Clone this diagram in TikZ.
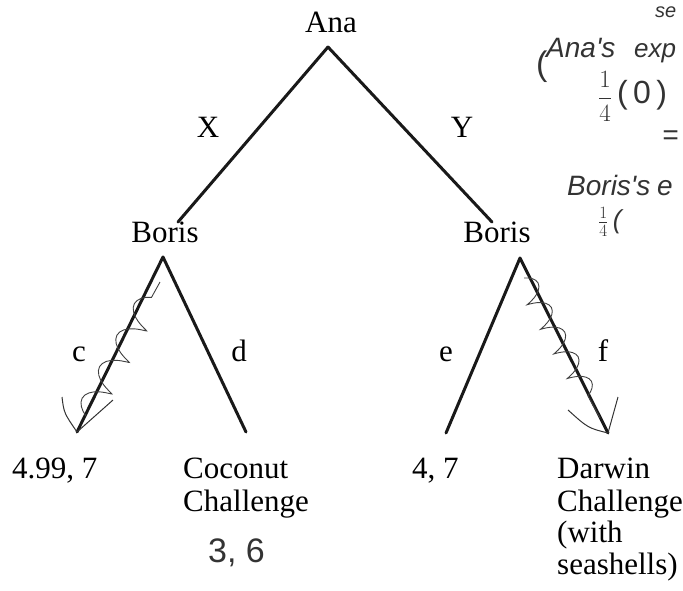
\documentclass[tikz,border=0pt]{standalone}
\usepackage{fontspec}
\setmainfont{Liberation Serif}
\newfontfamily\handfont{Liberation Sans}
\usetikzlibrary{decorations.pathmorphing}
\tikzset{
  branch/.style={line width=3pt, black!90, line cap=round},
  lbl/.style={inner sep=0pt, anchor=base, font=\fontsize{31}{32}\selectfont},
  leaf/.style={inner sep=0pt, anchor=base west, font=\fontsize{31}{32}\selectfont},
  hand/.style={inner sep=0pt, anchor=base west, font=\handfont\itshape\fontsize{28}{30}\selectfont, black!80},
  squig/.style={black!75, line width=0.9pt, decorate, decoration={coil, amplitude=12pt, segment length=36pt, aspect=0.4}},
  tick/.style={black!80, line width=1pt}
}
\begin{document}
\begin{tikzpicture}[x=1pt,y=-1pt]
\useasboundingbox (0,0) rectangle (683,591);
\clip (0,0) rectangle (683,591);
% vertices
\coordinate (a) at (328,47);
\coordinate (bl) at (178,222);
\coordinate (br) at (492,222);
\coordinate (blt) at (163,257);
\coordinate (brt) at (520,258);
\coordinate (lc) at (77,432);
\coordinate (ld) at (246,432);
\coordinate (le) at (446,433);
\coordinate (lf) at (608,433);
% branches
\draw[branch] (a) -- (bl);
\draw[branch] (a) -- (br);
\draw[branch] (blt) -- (lc);
\draw[branch] (blt) -- (ld);
\draw[branch] (brt) -- (le);
\draw[branch] (brt) -- (lf);
% players
\node[lbl] (ana) at (331,33) {Ana};
\node[lbl] (borisL) at (165,242) {Boris};
\node[lbl] (borisR) at (497,242) {Boris};
% action labels
\node[lbl] (X) at (208,138) {X};
\node[lbl] (Y) at (462,138) {Y};
\node[lbl] (c) at (79,361) {c};
\node[lbl] (d) at (239,361) {d};
\node[lbl] (e) at (446,361) {e};
\node[lbl] (f) at (603,361) {f};
% payoffs
\node[leaf] (p1) at (12,478) {4.99, 7};
\node[leaf] (p2a) at (183,478) {Coconut};
\node[leaf] (p2b) at (183,511) {Challenge};
\node[leaf] (p3) at (412,478) {4, 7};
\node[leaf] (p4a) at (557,478) {Darwin};
\node[leaf] (p4b) at (557,511) {Challenge};
\node[leaf] (p4c) at (557,542) {(with};
\node[leaf] (p4d) at (557,574) {seashells)};
% handwritten marks
\coordinate (sc1) at (160,282);
\coordinate (sc2) at (86,416);
\draw[squig] (sc2) -- (sc1);
\coordinate (tc1) at (62,397);
\coordinate (tc2) at (113,400);
\draw[tick] (tc1) .. controls (64,413) .. (lc) -- (tc2);
\coordinate (sf1) at (524,278);
\coordinate (sf2) at (600,418);
\draw[squig, decoration={coil, amplitude=10pt, segment length=28pt, aspect=0.4}] (sf1) -- (sf2);
\coordinate (tf1) at (568,410);
\coordinate (tf2) at (618,397);
\draw[tick] (tf1) .. controls (588,428) .. (lf) -- (tf2);
% handwritten text
\node[hand, font=\handfont\fontsize{34}{34}\selectfont] (h36) at (208,562) {3, 6};
\node[hand, font=\handfont\itshape\fontsize{20}{20}\selectfont] (hse) at (655,18) {se};
\node[hand, font=\handfont\fontsize{34}{34}\selectfont] (hpar) at (536,76) {(};
\node[hand] (hana) at (546,58) {Ana's};
\node[hand, font=\handfont\itshape\fontsize{26}{28}\selectfont] (hexp) at (634,58) {exp};
\node[hand] (hq) at (598,104) {$\displaystyle\frac{1}{4}$};
\node[hand, font=\handfont\fontsize{32}{32}\selectfont] (hq0) at (617,104) {(\,0\,)};
\node[hand] (heq) at (662,145) {=};
\node[hand] (hbor) at (567,195) {Boris's};
\node[hand] (hbore) at (657,195) {e};
\node[hand, font=\handfont\itshape\fontsize{26}{26}\selectfont] (hq2) at (598,228) {$\frac{1}{4}$\,(};
\end{tikzpicture}
\end{document}
